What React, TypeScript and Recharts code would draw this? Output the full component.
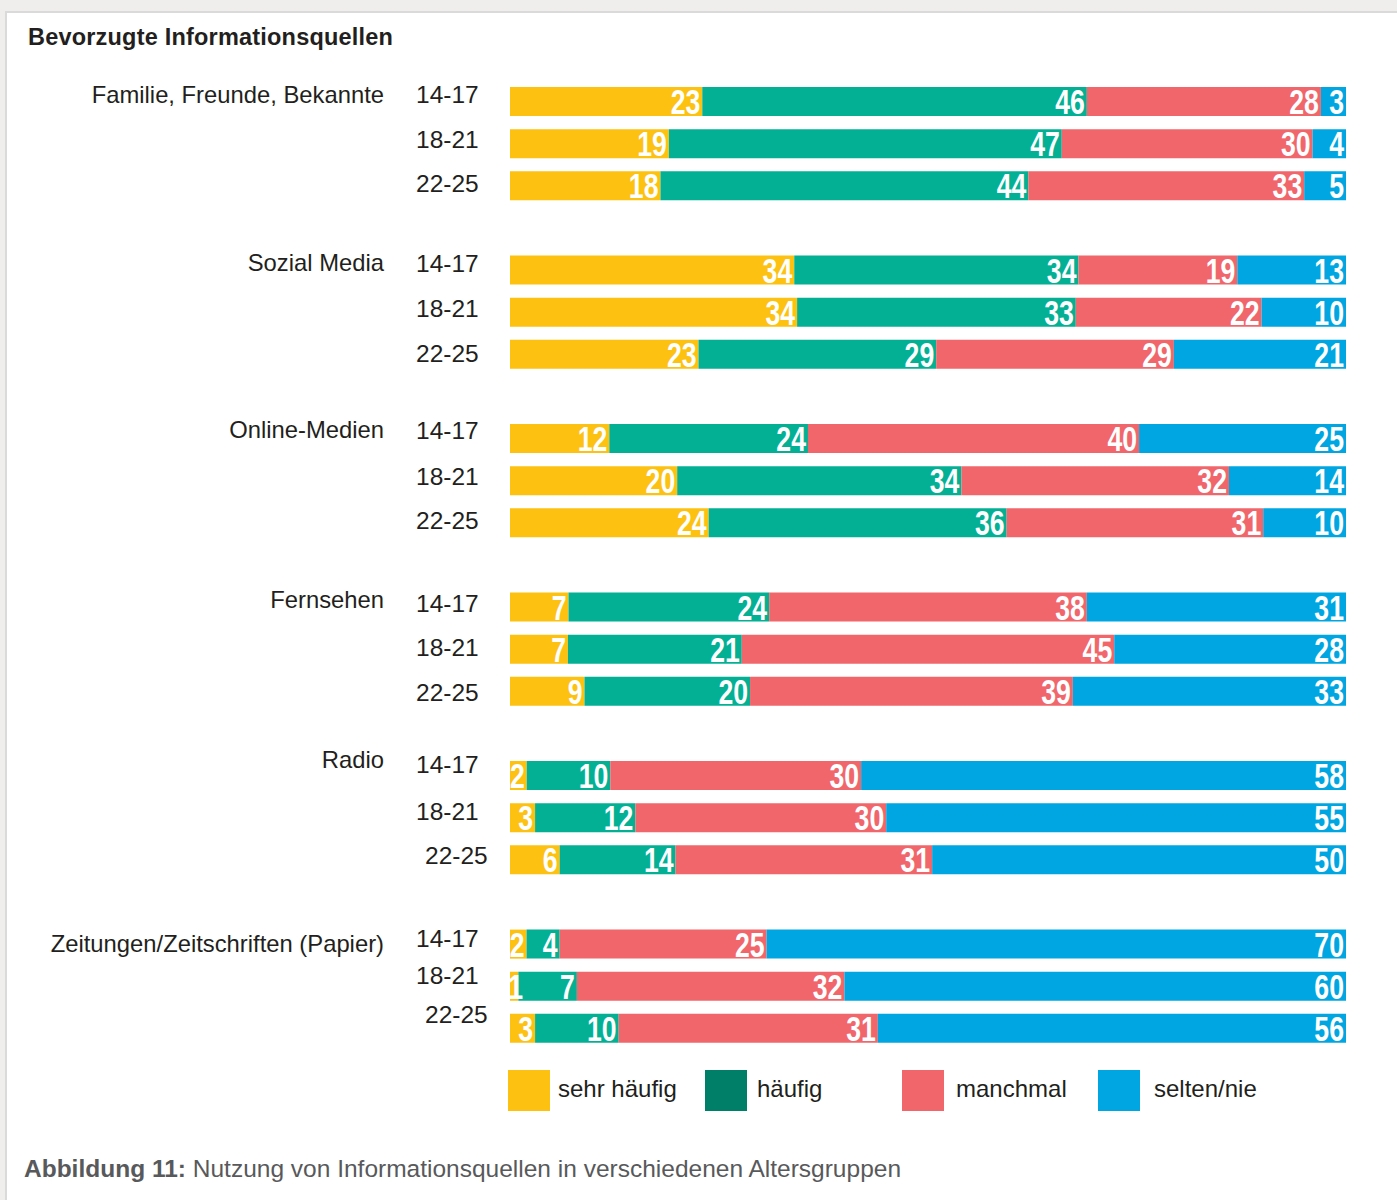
import React from "react";
import { BarChart, Bar, XAxis, YAxis, LabelList } from "recharts";

const groups = [
  "Familie, Freunde, Bekannte",
  "Sozial Media",
  "Online-Medien",
  "Fernsehen",
  "Radio",
  "Zeitungen/Zeitschriften (Papier)",
];
const ages = ["14-17", "18-21", "22-25"];

const sehrHaeufig = [23, 19, 18, 34, 34, 23, 12, 20, 24, 7, 7, 9, 2, 3, 6, 2, 1, 3];
const haeufig = [46, 47, 44, 34, 33, 29, 24, 34, 36, 24, 21, 20, 10, 12, 14, 4, 7, 10];
const manchmal = [28, 30, 33, 19, 22, 29, 40, 32, 31, 38, 45, 39, 30, 30, 31, 25, 32, 31];
const selten = [3, 4, 5, 13, 10, 21, 25, 14, 10, 31, 28, 33, 58, 55, 50, 70, 60, 56];

const seriesNames = ["sehr häufig", "häufig", "manchmal", "selten/nie"];

// styling: small vertical/horizontal nudges of the axis texts (as in the original layout)
const ageNudgeY = [-6, -3, -1, -6, -3, 0, -7, -3, -1, -3, -1, 2, -10, -5, -3, -5, -10, -13];
const ageNudgeX = [0, 0, 0, 0, 0, 0, 0, 0, 0, 0, 0, 0, 0, 0, 9, 0, 0, 9];
const groupNudgeY = [-6, -7, -8, -7, -15, 0];

const COLORS = {
  sehr: "#FDC211",
  haeufig: "#03B094",
  manchmal: "#F0666B",
  selten: "#00A6E2",
  legendHaeufig: "#007F68",
};

type Row = {
  key: string;
  group: string;
  age: string;
  idx: number;
  gIdx: number;
  sehr: number;
  haeufig: number;
  manchmal: number;
  selten: number;
};

const rows: Row[] = [];
groups.forEach((g, gi) => {
  ages.forEach((a, ai) => {
    const i = gi * 3 + ai;
    rows.push({
      key: `${g}|${a}`,
      group: ai === 0 ? g : "",
      age: a,
      idx: i,
      gIdx: gi,
      sehr: sehrHaeufig[i],
      haeufig: haeufig[i],
      manchmal: manchmal[i],
      selten: selten[i],
    });
  });
  if (gi < groups.length - 1) {
    rows.push({
      key: `gap${gi}`,
      group: "",
      age: "",
      idx: -1,
      gIdx: gi,
      sehr: 0,
      haeufig: 0,
      manchmal: 0,
      selten: 0,
    });
  }
});

const FONT = "'Liberation Sans', Arial, Helvetica, sans-serif";
const TEXT = "#231F20";

const AxisTick = (props: any) => {
  const { y, payload } = props;
  const row = rows.find((r) => r.key === payload.value);
  if (!row || row.idx < 0) return null;
  const base = y + 8;
  return (
    <g>
      <text
        x={416 + ageNudgeX[row.idx]}
        y={base + ageNudgeY[row.idx]}
        fontSize={24.5}
        fontFamily={FONT}
        fill={TEXT}
        textAnchor="start"
      >
        {row.age}
      </text>
      {row.group ? (
        <text
          x={384}
          y={base + groupNudgeY[row.gIdx]}
          fontSize={23.8}
          fontFamily={FONT}
          fill={TEXT}
          textAnchor="end"
        >
          {row.group}
        </text>
      ) : null}
    </g>
  );
};

const SegLabel = (props: any) => {
  const { x, y, width, height, value } = props;
  if (!value) return null;
  const right = Math.max(x + width - 2, x + 13);
  const baseline = y + height - 2;
  return (
    <text
      transform={`translate(${right},${baseline}) scale(0.74,1)`}
      x={0}
      y={0}
      textAnchor="end"
      fontSize={36}
      fontWeight={700}
      fontFamily={FONT}
      fill="#FFFFFF"
    >
      {value}
    </text>
  );
};

const legendItems = [
  { name: seriesNames[0], color: COLORS.sehr, left: 508 },
  { name: seriesNames[1], color: COLORS.legendHaeufig, left: 705 },
  { name: seriesNames[2], color: COLORS.manchmal, left: 902 },
  { name: seriesNames[3], color: COLORS.selten, left: 1098 },
];

export default function App() {
  return (
    <div
      style={{
        position: "absolute",
        left: 0,
        top: 0,
        width: 1397,
        height: 1200,
        background: "#EFEEEC",
        overflow: "hidden",
        fontFamily: FONT,
      }}
    >
      <div
        style={{
          position: "absolute",
          left: 5,
          top: 11,
          width: 1392,
          height: 1189,
          background: "#FFFFFF",
          borderTop: "2px solid #DADADA",
          borderLeft: "2px solid #DADADA",
          boxSizing: "border-box",
        }}
      />
      <div
        style={{
          position: "absolute",
          left: 28,
          top: 24,
          fontSize: 23.5,
          letterSpacing: 0.2,
          fontWeight: 700,
          color: TEXT,
          whiteSpace: "nowrap",
        }}
      >
        Bevorzugte Informationsquellen
      </div>
      <div style={{ position: "absolute", left: 0, top: 0 }}>
        <BarChart
          width={1397}
          height={1200}
          data={rows}
          layout="vertical"
          stackOffset="expand"
          barSize={29}
          barCategoryGap={0}
          margin={{ top: 80, right: 51, bottom: 151, left: 0 }}
        >
          <XAxis type="number" hide domain={[0, 1]} />
          <YAxis
            type="category"
            dataKey="key"
            width={510}
            axisLine={false}
            tickLine={false}
            interval={0}
            tick={<AxisTick />}
          />
          <Bar dataKey="sehr" name={seriesNames[0]} stackId="a" fill={COLORS.sehr} isAnimationActive={false}>
            <LabelList dataKey="sehr" content={<SegLabel />} />
          </Bar>
          <Bar dataKey="haeufig" name={seriesNames[1]} stackId="a" fill={COLORS.haeufig} isAnimationActive={false}>
            <LabelList dataKey="haeufig" content={<SegLabel />} />
          </Bar>
          <Bar dataKey="manchmal" name={seriesNames[2]} stackId="a" fill={COLORS.manchmal} isAnimationActive={false}>
            <LabelList dataKey="manchmal" content={<SegLabel />} />
          </Bar>
          <Bar dataKey="selten" name={seriesNames[3]} stackId="a" fill={COLORS.selten} isAnimationActive={false}>
            <LabelList dataKey="selten" content={<SegLabel />} />
          </Bar>
        </BarChart>
      </div>
      {legendItems.map((it, i) => (
        <div key={it.name}>
          <div
            style={{
              position: "absolute",
              left: it.left,
              top: 1070,
              width: 42,
              height: 41,
              background: it.color,
            }}
          />
          <div
            style={{
              position: "absolute",
              left: it.left + 50 + i * 2,
              top: 1075,
              fontSize: 24,
              color: TEXT,
              whiteSpace: "nowrap",
            }}
          >
            {it.name}
          </div>
        </div>
      ))}
      <div
        style={{
          position: "absolute",
          left: 24,
          top: 1155,
          fontSize: 24.5,
          color: "#58595B",
          whiteSpace: "nowrap",
        }}
      >
        <span style={{ fontWeight: 700 }}>Abbildung 11:</span> Nutzung von Informationsquellen in verschiedenen
        Altersgruppen
      </div>
    </div>
  );
}
